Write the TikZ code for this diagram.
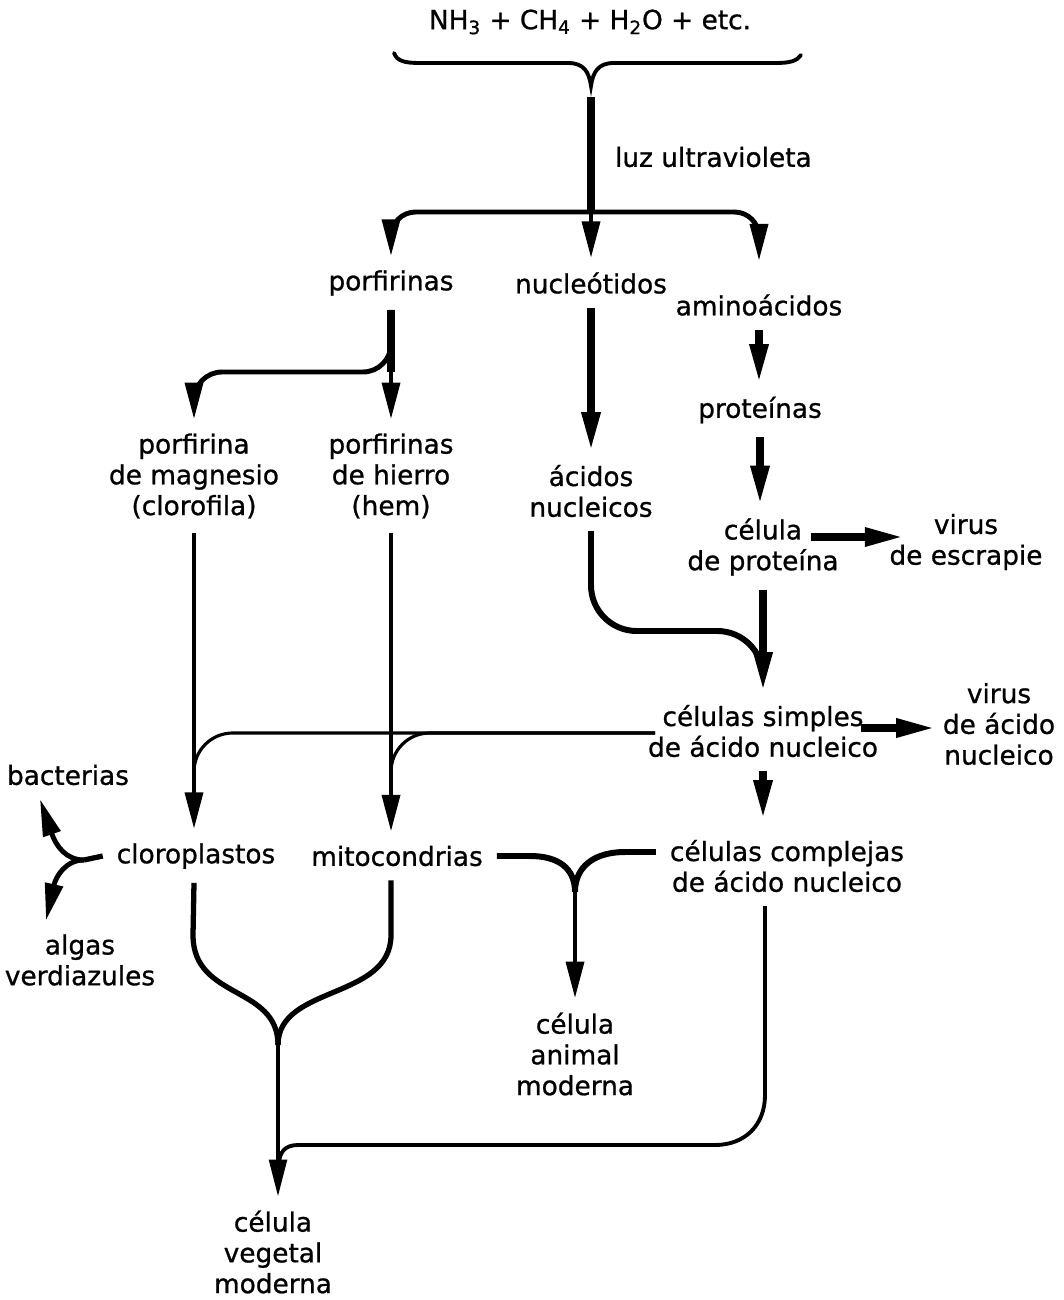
\documentclass[tikz,border=0pt]{standalone}
\usepackage{fontspec}
\setmainfont{DejaVu Sans}[FakeBold=0.9]
\usetikzlibrary{arrows.meta,calc}

\tikzset{
  lbl/.style={align=center, inner sep=2pt, outer sep=6pt},
  flow/.style={line width=4.2pt, -{Triangle[length=22pt,width=10pt]}},
  flowmid/.style={line width=2.8pt, -{Triangle[length=21pt,width=10pt]}},
  stem/.style={line width=4.2pt},
  link/.style={line width=1.8pt},
}

\begin{document}
\begin{tikzpicture}[x=0.02cm, y=-0.02cm, font=\fontsize{15}{17.5}\selectfont]
  \useasboundingbox (0,0) rectangle (1063,1300);

  % Labels
  \node[lbl] (src) at (590,22) {NH\textsubscript{3} + CH\textsubscript{4} + H\textsubscript{2}O + etc.};
  \node[lbl, anchor=west] (uv) at (601,157) {luz ultravioleta};
  \node[lbl] (porf) at (391,283) {porfirinas};
  \node[lbl] (nucl) at (591,283) {nucleótidos};
  \node[lbl] (amino) at (759,305) {aminoácidos};
  \node[lbl] (magn) at (194,476) {porfirina\\de magnesio\\(clorofila)};
  \node[lbl] (hierro) at (391,476) {porfirinas\\de hierro\\(hem)};
  \node[lbl] (acidos) at (591,491) {ácidos\\nucleicos};
  \node[lbl] (prot) at (760,410) {proteínas};
  \node[lbl] (celprot) at (763,547) {célula\\de proteína};
  \node[lbl] (escr) at (966,542) {virus\\de escrapie};
  \node[lbl] (simples) at (763,731) {células simples\\de ácido nucleico};
  \node[lbl] (virna) at (999,724) {virus\\de ácido\\nucleico};
  \node[lbl] (bact) at (68,775) {bacterias};
  \node[lbl] (clor) at (196,856) {cloroplastos};
  \node[lbl] (mito) at (397,856) {mitocondrias};
  \node[lbl] (compl) at (787,866) {células complejas\\de ácido nucleico};
  \node[lbl] (algas) at (80,960) {algas\\verdiazules};
  \node[lbl] (animal) at (575,1054) {célula\\animal\\moderna};
  \node[lbl] (vegetal) at (273,1252) {célula\\vegetal\\moderna};

  % Junctions
  \coordinate (bracetip) at (591,86);
  \coordinate (uvsplit) at (591,212);
  \coordinate (porfsplit) at (391,372);
  \coordinate (acjoin) at (763,631);
  \coordinate (cljn) at (84,860);
  \coordinate (animjn) at (575,892);
  \coordinate (vegjn) at (278,1045);

  % Brace under the formula
  \draw[line width=2.2pt, line cap=round] (394,53) .. controls (397,61) and (404,63) .. (420,63) -- (568,63)
    .. controls (584,63) and (589,72) .. (bracetip) .. controls (593,72) and (598,63) .. (614,63)
    -- (776,63) .. controls (790,63) and (797,61) .. (801,55);

  % First products
  \draw[stem, shorten <=6pt] (bracetip) -- (uvsplit);
  \draw[flowmid, rounded corners=14] (uvsplit) -| (porf);
  \draw[flowmid] (uvsplit) -- (nucl);
  \draw[flowmid, rounded corners=14, shorten >=11pt] (uvsplit) -| (amino);

  % Porphyrins
  \draw[stem] (porf) -- (porfsplit);
  \draw[flowmid, rounded corners=16] (porf) -- (porfsplit) -| (magn);
  \draw[flowmid] (porfsplit) -- (hierro);

  % Nucleotides and amino acids
  \draw[flow] (nucl) -- (acidos);
  \draw[flow] (amino) -- (amino |- prot.north);
  \draw[flow] (prot) -- (prot |- celprot.north);
  \draw[flow] ($(celprot.east)+(-42,-10)$) -- ($(escr.west)+(28,-5)$);
  \draw[line width=3.4pt, rounded corners=26] (acidos) |- (acjoin) -- ++(0,30);
  \draw[flow] (celprot) -- (simples);
  \draw[flow] ($(simples.east)+(-31,-3)$) -- ($(virna.west)+(6,4)$);
  \draw[flow, shorten >=4pt] (simples) -- (simples |- compl.north);

  % Simple cells into the organelles
  \draw[link, rounded corners=22, shorten >=20pt] ($(simples.west)+(21,2)$) -| (magn |- clor.north);
  \draw[link, rounded corners=22, shorten >=20pt] ($(simples.west)+(21,2)$) -| (hierro |- mito.north);
  \draw[flowmid] (magn) -- (magn |- clor.north);
  \draw[flowmid] (hierro) -- (hierro |- mito.north);

  % Side branches of the chloroplasts
  \draw[line width=3pt] (clor.west) -- (cljn);
  \draw[flowmid] (cljn) .. controls (66,860) and (56,846) .. ($(bact.south)+(-28,0)$);
  \draw[flowmid] (cljn) .. controls (66,860) and (56,876) .. ($(algas.north)+(-34,0)$);

  % Towards the animal cell
  \draw[line width=3.4pt] (mito.east) -- (530,856) .. controls (558,856) and (575,868) .. (animjn);
  \draw[line width=3.4pt] ($(compl.west)+(0,-14)$) -- (625,852) .. controls (595,852) and (575,866) .. (animjn);
  \draw[flowmid] (animjn) -- (animal);

  % Towards the plant cell
  \draw[line width=3pt] (magn |- clor.south) -- (193,935) .. controls (193,1000) and (278,985) .. (vegjn);
  \draw[line width=3pt] (hierro |- mito.south) -- (391,935) .. controls (391,1000) and (278,985) .. (vegjn);
  \draw[flowmid, line width=2.2pt] (vegjn) -- (vegjn |- vegetal.north);
  \draw[line width=2.2pt] ($(compl.south)+(-22,0)$) -- (765,1095) .. controls (765,1125) and (745,1145) .. (715,1145)
    -- (298,1145) .. controls (285,1145) and (279,1152) .. (279,1165);
\end{tikzpicture}
\end{document}
